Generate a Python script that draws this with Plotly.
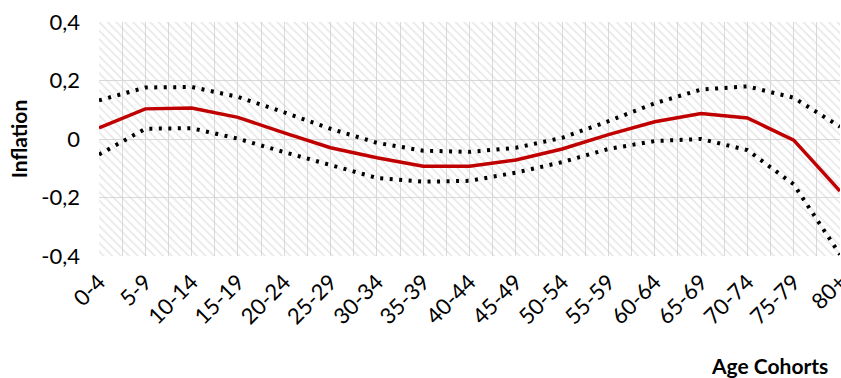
import plotly.graph_objects as go

# Age cohorts and estimated inflation effect with its confidence band
categories = ["0-4", "5-9", "10-14", "15-19", "20-24", "25-29", "30-34", "35-39",
              "40-44", "45-49", "50-54", "55-59", "60-64", "65-69", "70-74",
              "75-79", "80+"]
inflation = [0.038, 0.103, 0.106, 0.074, 0.021, -0.030, -0.064, -0.093,
             -0.093, -0.072, -0.034, 0.015, 0.059, 0.087, 0.072, -0.004, -0.178]
upper = [0.132, 0.176, 0.178, 0.144, 0.091, 0.035, -0.013, -0.040,
         -0.044, -0.030, 0.004, 0.061, 0.122, 0.169, 0.180, 0.141, 0.042]
lower = [-0.053, 0.035, 0.037, 0.001, -0.045, -0.090, -0.133, -0.146,
         -0.143, -0.115, -0.079, -0.034, -0.007, 0.000, -0.038, -0.155, -0.395]

y_tickvals = [-0.4, -0.2, 0, 0.2, 0.4]
y_ticktext = ["-0,4", "-0,2", "0", "0,2", "0,4"]

x_idx = list(range(len(categories)))
X_RANGE = [0, len(categories) - 1]
Y_RANGE = [y_tickvals[0], y_tickvals[-1]]

FONT = "Lato, 'Open Sans', sans-serif"
GRID = "#d9d9d9"

fig = go.Figure()

# hatched plot background
fig.add_trace(go.Scatter(
    x=[X_RANGE[0], X_RANGE[1], X_RANGE[1], X_RANGE[0], X_RANGE[0]],
    y=[Y_RANGE[0], Y_RANGE[0], Y_RANGE[1], Y_RANGE[1], Y_RANGE[0]],
    mode="none", fill="toself",
    fillcolor="rgba(0,0,0,0)",
    fillpattern=dict(shape="\\", fgcolor="#d2d2d2", bgcolor="rgba(0,0,0,0)",
                     size=6, solidity=0.3, fillmode="overlay"),
    hoverinfo="skip", showlegend=False,
))

dots = "3px,6.5px"
fig.add_trace(go.Scatter(x=x_idx, y=upper, mode="lines",
                         line=dict(color="black", width=4, dash=dots),
                         showlegend=False))
fig.add_trace(go.Scatter(x=x_idx, y=lower, mode="lines",
                         line=dict(color="black", width=4, dash=dots),
                         showlegend=False))
fig.add_trace(go.Scatter(x=x_idx, y=inflation, mode="lines",
                         line=dict(color="#C00000", width=3.5),
                         showlegend=False))

fig.update_layout(
    width=841, height=378,
    margin=dict(l=99, r=1, t=22, b=122, autoexpand=False),
    paper_bgcolor="white", plot_bgcolor="white",
    font=dict(family=FONT, size=22, color="black"),
    xaxis=dict(
        range=X_RANGE, tickvals=x_idx, ticktext=categories,
        tickangle=-45, showgrid=True, gridcolor=GRID, gridwidth=1,
        minor=dict(dtick=0.5, tick0=0, showgrid=True, gridcolor=GRID, gridwidth=1),
        zeroline=False, showline=False, ticks="", ticklabelstandoff=8,
        ticklabeloverflow="allow", automargin=False,
        tickfont=dict(family=FONT, size=22),
    ),
    yaxis=dict(
        range=Y_RANGE, tickvals=y_tickvals, ticktext=y_ticktext,
        showgrid=True, gridcolor=GRID, gridwidth=1,
        zeroline=True, zerolinecolor=GRID, zerolinewidth=1,
        showline=False, ticks="", ticklabelstandoff=18, automargin=False,
        tickfont=dict(family=FONT, size=22),
    ),
    annotations=[
        dict(text="<b>Inflation</b>", textangle=-90, xref="paper", yref="paper",
             x=-0.109, y=0.5, xanchor="center", yanchor="middle", showarrow=False,
             font=dict(family=FONT, size=21, color="black")),
        dict(text="<b>Age Cohorts</b>", xref="paper", yref="paper",
             x=0.9865, y=-0.47, xanchor="right", yanchor="middle", showarrow=False,
             font=dict(family=FONT, size=21, color="black")),
    ],
)

fig.write_html("out.html")
